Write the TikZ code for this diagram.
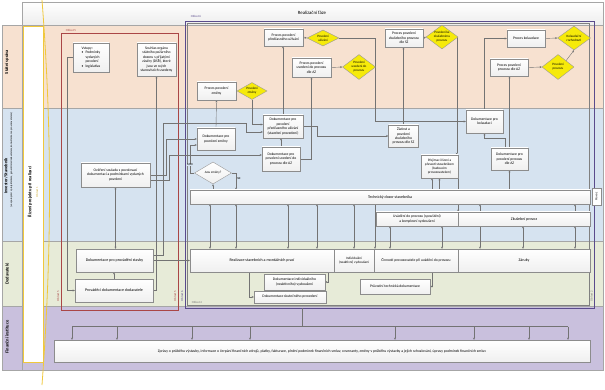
\documentclass[tikz,border=0pt]{standalone}
\usepackage{fontspec}
\setmainfont{Carlito}
\usetikzlibrary{shapes.geometric,arrows.meta}
\definecolor{peach}{RGB}{247,225,208}
\definecolor{lblue}{RGB}{214,227,240}
\definecolor{lgreen}{RGB}{231,235,216}
\definecolor{lav}{RGB}{201,192,221}
\definecolor{ob5}{RGB}{170,70,70}
\definecolor{ob6}{RGB}{90,75,140}
\definecolor{ylw}{RGB}{240,200,60}
\definecolor{dyel}{RGB}{246,234,10}
\pgfdeclarelayer{bg}
\pgfdeclarelayer{edges}
\pgfsetlayers{bg,edges,main}
\newcommand\myfs{\fontsize{3.7}{4.4}\selectfont}
\newcommand\myfb{\fontsize{4}{4.8}\selectfont}
\newcommand\myfd{\fontsize{3.3}{3.9}\selectfont}
\newcommand\myfl{\fontsize{4.5}{5.4}\selectfont\bfseries}
\newcommand\myfo{\fontsize{3}{3.5}\selectfont}
\newcommand\myfh{\fontsize{4.8}{5.6}\selectfont}
\newcommand\myff{\fontsize{3.8}{4.5}\selectfont}
\begin{document}
\begin{tikzpicture}[x=1pt,y=-1pt,
  box/.style={draw=black!45,line width=0.4pt,top color=white,bottom color=black!6,inner sep=0.4pt,align=center,font=\myfs},
  dia/.style={diamond,draw=black!40,line width=0.4pt,fill=dyel,inner sep=0pt},
  dtxt/.style={font=\myfd,align=center,inner sep=0pt},
  ar/.style={draw=black!55,line width=0.4pt,-{Stealth[length=2.2pt,width=2pt]}},
  dar/.style={draw=black!55,line width=0.4pt,{Stealth[length=2.2pt,width=2pt]}-{Stealth[length=2.2pt,width=2pt]}},
  ln/.style={draw=black!55,line width=0.4pt},
  lane/.style={draw=black!35,line width=0.4pt},
  lanelbl/.style={rotate=90,font=\myfl,align=center,inner sep=0pt},
  obl/.style={font=\myfo,inner sep=0pt}]
\useasboundingbox (0,0) rectangle (605,390);

% ---------- nodes ----------
% State administration lane
\node[box,minimum width=36,minimum height=29] (vst) at (91,57.5) {\begin{tabular}{@{}l@{\hspace{2pt}}l@{}}\multicolumn{2}{@{}l@{}}{Vstupy:}\\•&Podmínky\\&vydaných\\&povolení\\•&legislativa\end{tabular}};
\node[box,minimum width=39,minimum height=33] (souh) at (156.5,59.5) {Souhlas orgánu\\státního požárního\\dozoru s přijatými\\závěry (DSŘ), které\\jsou ve svých\\stanoviscích uvedeny};
\node[box,minimum width=39,minimum height=18] (pzm) at (216.5,91) {Proces povolení\\změny};
\node[dia,minimum width=30,minimum height=17] (pzmd) at (252,91) {};
\node[dtxt] (pzmdt) at (pzmd) {Povolení\\změny};
\node[box,minimum width=39,minimum height=17] (ppu) at (283.5,37.5) {Proces povolení\\předčasného užívání};
\node[dia,minimum width=32,minimum height=16] (ppud) at (323,38) {};
\node[dtxt] (ppudt) at (ppud) {Povolení\\užívání};
\node[box,minimum width=39,minimum height=19] (puaz) at (311.5,67.5) {Proces povolení\\uvedení do provozu\\dle AZ};
\node[dia,minimum width=33,minimum height=25] (puazd) at (359,67) {};
\node[dtxt] (puazdt) at (puazd) {Povolení\\uvedení do\\provozu};
\node[box,minimum width=38,minimum height=18] (pzp) at (404,38) {Proces povolení\\zkušebního provozu\\dle SZ};
\node[dia,minimum width=32,minimum height=24] (pzpd) at (442,37) {};
\node[dtxt] (pzpdt) at (pzpd) {Povolení ke\\zkušebnímu\\provozu};
\node[box,minimum width=38,minimum height=17] (pkol) at (526,38.5) {Proces kolaudace};
\node[dia,minimum width=33,minimum height=24] (kold) at (574,38) {};
\node[dtxt] (koldt) at (kold) {Kolaudační\\rozhodnutí};
\node[box,minimum width=38,minimum height=17] (ppaz) at (509,67.5) {Proces povolení\\provozu dle AZ};
\node[dia,minimum width=32,minimum height=25] (ppazd) at (558,67) {};
\node[dtxt] (ppazdt) at (ppazd) {Povolení\\provozu};

% Investor lane
\node[box,minimum width=38,minimum height=22] (dzm) at (216,139) {Dokumentace pro\\povolení změny};
\node[box,minimum width=40,minimum height=23] (dpu) at (283,126.5) {Dokumentace pro\\povolení\\předčasného užívání\\(stavební provedení)};
\node[box,minimum width=38,minimum height=24] (duaz) at (281,159) {Dokumentace pro\\povolení uvedení do\\provozu dle AZ};
\node[dia,fill=none,top color=white,bottom color=black!6,minimum width=37,minimum height=22] (jz) at (213,173) {};
\node[dtxt] (jzt) at (jz) {Jsou změny?};
\node[box,minimum width=30,minimum height=22] (zzp) at (403.5,136) {Žádost a\\povolení\\zkušebního\\provozu dle SZ};
\node[box,minimum width=37,minimum height=23] (dkol) at (484.5,121.5) {Dokumentace pro\\kolaudaci};
\node[box,minimum width=37,minimum height=22] (dpaz) at (509.5,159) {Dokumentace pro\\povolení provozu\\dle AZ};
\node[box,font=\fontsize{3.4}{4.2}\selectfont,minimum width=37,minimum height=23] (prej) at (439.5,166.5) {Přejímací řízení a\\převzetí stavebníkem\\(budoucím\\provozovatelem)};
\node[box,minimum width=69,minimum height=24] (over) at (115.5,175) {Ověření souladu s povolovací\\dokumentací a podmínkami vydaných\\povolení};
\node[box,font=\myfb,minimum width=400,minimum height=14] (tds) at (390,197) {Technický dozor stavebníka};
\node[box,minimum width=82,minimum height=14] (uvad) at (417,219) {Uvádění do provozu (spouštění)\\a komplexní vyzkoušení};
\node[box,font=\myfb,minimum width=132,minimum height=14] (zkp) at (524,219) {Zkušební provoz};
\node[draw=black!45,fill=white,minimum width=9,minimum height=17,inner sep=0pt] (prv) at (596.5,196.5) {\rotatebox{90}{\myfo Provoz}};

% Contractors lane
\node[box,font=\myfb,minimum width=77,minimum height=23] (dps) at (114.5,260.5) {Dokumentace pro provádění stavby};
\node[box,font=\myfb,minimum width=78,minimum height=23] (prov) at (114,290.5) {Prováděcí dokumentace dodavatele};
\node[box,font=\myfb,minimum width=144,minimum height=23] (real) at (262,260.5) {Realizace stavebních a montážních prací};
\node[box,font=\fontsize{3.4}{4.2}\selectfont,minimum width=40,minimum height=23] (indv) at (354,260.5) {Individuální\\(neaktivní) vyzkoušení};
\node[box,minimum width=84,minimum height=23] (cin) at (416,260.5) {Činnosti provozovatele při uvádění do provozu};
\node[box,font=\myfb,minimum width=132,minimum height=23] (zar) at (524,260.5) {Záruky};
\node[box,minimum width=61,minimum height=16] (dind) at (294.5,282) {Dokumentace individuálního\\(neaktivního) vyzkoušení};
\node[box,minimum width=72,minimum height=12] (dsp) at (290,297) {Dokumentace skutečného provedení};
\node[box,minimum width=70,minimum height=15] (ptd) at (395,286.5) {Průvodní technická dokumentace};

% Finance lane
\node[box,font=\myff,minimum width=536,minimum height=22] (fin) at (322,351) {Zprávy o průběhu výstavby, informace o čerpání finančních zdrojů, platby, fakturace, plnění podmínek finančních smluv, covenanty, změny v průběhu výstavby a jejich schvalování, úpravy podmínek finančních smluv};

% labels
\node[font=\myfh] (hdr) at (312,12.5) {Realizační fáze};
\node[lanelbl] (l1) at (7,62) {Státní správa};
\node[lanelbl] (l2) at (6,176) {Investor/Stavebník};
\node[rotate=90,font=\fontsize{2.6}{3}\selectfont,inner sep=0pt] (l2s) at (11.5,160) {(ve spolupráci s projektantem, generálním dodavatelem, konzultantem a provozovatelem)};
\node[lanelbl] (l3) at (7,274) {Dodavatelé};
\node[lanelbl] (l4) at (7,337) {Finanční instituce};
\node[lanelbl] (ypr) at (30,192) {Řízení projektu při realizaci};
\node[obl,rotate=90,text=ylw!85!black] (yo1) at (37,192) {Oblast 1};
\node[obl,text=ob5] (o5) at (71,30) {Oblast 5};
\node[obl,text=ob5,rotate=90] (o5a) at (58,296) {Oblast 5};
\node[obl,text=ob5,rotate=90] (o5b) at (175,296) {Oblast 5};
\node[obl,text=ob6] (o6) at (196,16.5) {Oblast 6};
\node[obl,text=ob6,rotate=90] (o6a) at (182,296) {Oblast 6};
\node[obl,text=black!55] (o4) at (197,302) {Oblast 4};
\node[obl,text=black!55,rotate=90] (o2) at (591.5,296) {Oblast 2};
\node[obl,fill=lblue,inner sep=0.3pt] (ano) at (190,165) {ANO};
\node[obl] (ne) at (239,179) {NE};

% ---------- background ----------
\begin{pgfonlayer}{bg}
\fill[white] (0,0) rectangle (605,390);
\draw[lane,top color=white,bottom color=black!7] (22,2) rectangle (603,25);
\draw[lane,fill=peach] (2,25) rectangle (603,108);
\draw[lane,fill=lblue] (2,108) rectangle (603,241);
\draw[lane,fill=lgreen] (2,241) rectangle (603,306);
\draw[lane,fill=lav] (2,306) rectangle (603,370);
\draw[lane] (22,25) -- (22,370);
\draw[ylw,line width=0.8pt,fill=white] (23,26) rectangle (43,362);
\draw[ylw,line width=0.8pt] (42,0) .. controls (52,130) and (52,250) .. (42,385);
\draw[ob5,line width=0.7pt] (61,33) rectangle (178,310);
\draw[ob6,line width=0.7pt] (185,21) rectangle (594,308);
\draw[black!50,line width=0.5pt] (187.5,23.5) rectangle (589,305.5);
\end{pgfonlayer}

% ---------- connectors ----------
\begin{pgfonlayer}{edges}
\draw[ar] (dzm.north) -- (pzm.south);
\draw[ar] (pzm.east) -- (pzmd.west);
\draw[ar] (pzmd.south) |- ([yshift=2pt]dpu.west);
\draw[ar] (duaz.north) -- (duaz.north |- dpu.south);
\draw[ar] (dpu.north) -- (dpu.north |- ppu.south);
\draw[ar] (ppu.east) -- (ppud.west);
\draw[ar] (duaz.east) -| (puaz.south);
\draw[ar] (puaz.east) -- (puazd.west);
\coordinate (j1) at (375,121.5);
\draw[ar] (ppud.east) -| (j1) -- (dkol.west);
\draw[ar] (dpu.east) -- ++(14,0) |- (zzp.west);
\draw[ar] (zzp.north) -- (zzp.north |- pzp.south);
\draw[ar] (pzp.east) -- (pzpd.west);
\draw[ar] (pzpd.east) -| ([xshift=-1.5pt]prej.north east);
\draw[ar] (dkol.north) |- (pkol.west);
\draw[ar] (pkol.east) -- (kold.west);
\draw[ar] (ppaz.east) -- (ppazd.west);
\draw[ar] (ppazd.north east) -- (kold.south);
\draw[ar] (dpaz.north) -- (dpaz.north |- ppaz.south);
\coordinate (j3) at (505.5,138);
\draw[ar] ([xshift=-4pt]dpaz.north) -- (j3) -| (dkol.south);
\draw[ar] (dpaz.south |- tds.north) -- (dpaz.south);
\draw[ar] (prej.south |- tds.north) -- (prej.south);
\draw[ar] (tds.north -| 432,0) -- (prej.south -| 432,0);
\draw[ar] (prej.south east) -- (uvad.north east);
\draw[ar] (jz.west) -- (190,173) |- ([yshift=-6pt]dzm.west);
\draw[ar] (jz.east) -- (236,173) -- (tds.north -| 236,0);
\draw[ar] (jz.south |- tds.north) -- (jz.south);
% area 5
\draw[ar] (vst.west) -- (67,57.5) |- (prov.west);
\draw[dar] (over.south) -- (over.south |- dps.north);
\draw[ar] (prov.north) -- (prov.north |- dps.south);
\draw[ar] (dps.east) -- (real.west);
\draw[ar] (prov.east) -| (souh.south);
\draw[ar] ([yshift=5pt]dps.east) -| (163,123) -- (246,123) |- ([yshift=-5.5pt]dpu.west);
\draw[ar] (over.east) -| (166,139) -- (dzm.west);
\draw[ar] ([yshift=-5pt]over.east) -- (169,180) |- ([yshift=4pt]duaz.west);
% contractors
\draw[ar] ([xshift=-13pt]real.south) |- (dsp.west);
\draw[ar] ([xshift=66pt]real.south) |- (dind.east);
\draw[ar] ([xshift=16pt]cin.south) |- (ptd.east);
\foreach \x in {210,236,288,317,354} \draw[dar] (tds.south -| \x,0) -- (real.north -| \x,0);
\draw[ar] (tds.south -| 375,0) -- (cin.north -| 375,0);
\foreach \x in {390,442} \draw[dar] (uvad.south -| \x,0) -- (cin.north -| \x,0);
\draw[dar] (tds.south -| 480,0) -- (zar.north -| 480,0);
\foreach \x in {523,575} \draw[dar] (zkp.south -| \x,0) -- (zar.north -| \x,0);
\draw[ar] (zkp.north -| 575,0) -- (tds.south -| 575,0);
% finance
\coordinate (t0) at (72,326.5);
\coordinate (t1) at (568,326.5);
\draw[ln] (t0) -- (t1);
\draw[ln] (302,308) -- (302,326.5);
\foreach \x in {72,117,192,250,395,474,529,568} \draw[ar] (t0 -| \x,0) -- (fin.north -| \x,0);
\end{pgfonlayer}
\end{tikzpicture}
\end{document}
